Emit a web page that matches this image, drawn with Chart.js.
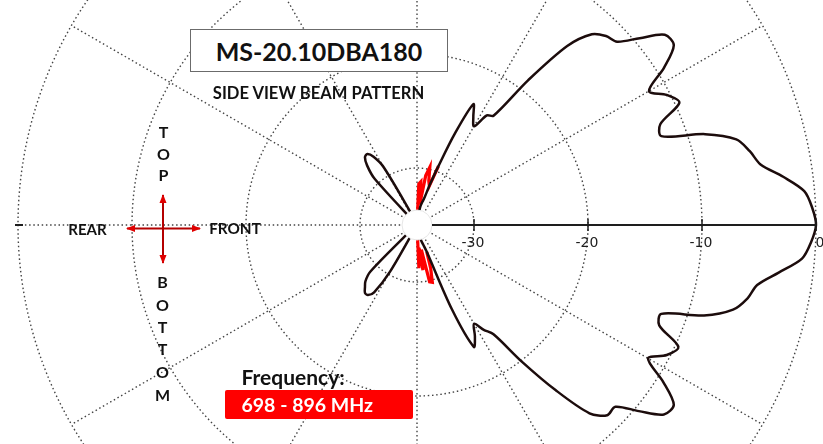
<!DOCTYPE html>
<html>
<head>
<meta charset="utf-8">
<script src="https://cdn.jsdelivr.net/npm/chart.js@4.4.1/dist/chart.umd.min.js"></script>
<style>
html,body{margin:0;padding:0;background:#fff;}
#wrap{position:relative;width:823px;height:444px;overflow:hidden;background:#fff;}
#c{position:absolute;left:-13px;top:-205px;}
.t{position:absolute;font-family:Lato,"Open Sans",sans-serif;font-weight:700;color:#111;white-space:nowrap;line-height:1;transform:translate(-50%,-50%);}
.l{transform:translate(0,-50%);}
#titlebox{position:absolute;left:190px;top:29px;width:258px;height:43px;box-sizing:border-box;border:1.5px solid #6b6b6b;background:#fff;}
#freqbox{position:absolute;left:225px;top:390px;width:188px;height:29px;background:#ff0000;border-radius:2px;}
svg{position:absolute;left:0;top:0;}
</style>
</head>
<body>
<div id="wrap">
  <canvas id="c" width="860" height="860"></canvas>
  <div id="titlebox"></div>
  <div class="t" style="left:319px;top:51px;font-size:25px;">MS-20.10DBA180</div>
  <div class="t" style="left:318.5px;top:92.5px;font-size:16.6px;">SIDE VIEW BEAM PATTERN</div>

  <div class="t" style="left:163.5px;top:131.5px;font-size:16px;">T</div>
  <div class="t" style="left:163.5px;top:153.5px;font-size:16px;">O</div>
  <div class="t" style="left:163.5px;top:175px;font-size:16px;">P</div>

  <div class="t" style="left:87.5px;top:228.5px;font-size:15px;">REAR</div>
  <div class="t" style="left:235px;top:228.5px;font-size:15.3px;">FRONT</div>

  <div class="t" style="left:162.5px;top:281.5px;font-size:16px;">B</div>
  <div class="t" style="left:162.5px;top:304.5px;font-size:16px;">O</div>
  <div class="t" style="left:162.5px;top:327px;font-size:16px;">T</div>
  <div class="t" style="left:162.5px;top:349px;font-size:16px;">T</div>
  <div class="t" style="left:162.5px;top:372px;font-size:16px;">O</div>
  <div class="t" style="left:162.5px;top:395px;font-size:16px;">M</div>

  <div class="t l" style="left:241.5px;top:375.5px;font-size:21px;">Frequency:</div>
  <div id="freqbox"></div>
  <div class="t l" style="left:241.5px;top:404.5px;font-size:19.5px;color:#fff;">698 - 896 MHz</div>

  <svg width="823" height="444">
    <defs>
      <marker id="ah" markerWidth="9" markerHeight="8" refX="8" refY="4" orient="auto-start-reverse" markerUnits="userSpaceOnUse">
        <path d="M0,0.5 L9,4 L0,7.5 z" fill="#e00000"/>
      </marker>
    </defs>
    <line x1="163" y1="195" x2="163" y2="263" stroke="#b40000" stroke-width="2" marker-start="url(#ah)" marker-end="url(#ah)"/>
    <line x1="127" y1="228.5" x2="200" y2="228.5" stroke="#b40000" stroke-width="2" marker-start="url(#ah)" marker-end="url(#ah)"/>
  </svg>
</div>
<script>
// Elevation angles (degrees, counter-clockwise from FRONT, 90 = TOP)
const ANGLES = [
  0, 2.5, 5, 7.5, 10, 12.5, 15, 17.5, 20, 22.5, 25, 27.5,
  30, 32.5, 35, 37.5, 40, 42.5, 45, 47.5, 50, 52.5, 55, 57.5,
  60, 62.5, 65, 67.5, 70, 72.5, 75, 77.5, 80, 82.5, 85, 87.5,
  90, 92.5, 95, 97.5, 100, 102.5, 105, 107.5, 110, 112.5, 115, 117.5,
  120, 122.5, 125, 127.5, 130, 132.5, 135, 137.5, 140, 142.5, 145, 147.5,
  150, 152.5, 155, 157.5, 160, 162.5, 165, 167.5, 170, 172.5, 175, 177.5,
  180, 182.5, 185, 187.5, 190, 192.5, 195, 197.5, 200, 202.5, 205, 207.5,
  210, 212.5, 215, 217.5, 220, 222.5, 225, 227.5, 230, 232.5, 235, 237.5,
  240, 242.5, 245, 247.5, 250, 252.5, 255, 257.5, 260, 262.5, 265, 267.5,
  270, 272.5, 275, 277.5, 280, 282.5, 285, 287.5, 290, 292.5, 295, 297.5,
  300, 302.5, 305, 307.5, 310, 312.5, 315, 317.5, 320, 322.5, 325, 327.5,
  330, 332.5, 335, 337.5, 340, 342.5, 345, 347.5, 350, 352.5, 355, 357.5
];
// Relative level (dB) of the side-view beam pattern (black trace)
const PATTERN_DB = [
  0, -0.3, -0.9, -2.6, -4.4, -5.1, -6.0, -8.5, -12.2, -11.9, -9.6, -10.3,
  -11.5, -9.3, -7.5, -7.6, -9.5, -11.2, -11.55, -12.3, -14.5, -19.0, -23.3, -23.6,
  -25.0, -24.3, -23.3, -26.3, -29.5, -31.4, -32.6, -33.0, -33.4, -34.2, -35, -35,
  -35, -35, -35, -35, -35, -35, -35, -35, -35, -35, -35, -33.5,
  -29.1, -27.9, -27.4, -27.5, -28.2, -29.5, -35, -35, -35, -35, -35, -35,
  -35, -35, -35, -35, -35, -35, -35, -35, -35, -35, -35, -35,
  -35, -35, -35, -35, -35, -35, -35, -35, -35, -35, -35, -35,
  -35, -35, -35, -35, -35, -34.0, -29.2, -28.3, -27.9, -27.5, -27.5, -28.0,
  -30.3, -35, -35, -35, -35, -35, -35, -35, -35, -35, -35, -35,
  -35, -35, -35, -35, -35, -34.0, -33.6, -33.2, -32.5, -27.0, -23.2, -24.0,
  -25.0, -24.1, -23.3, -19.9, -16.1, -12.6, -11.4, -11.4, -9.6, -7.7, -7.5, -9.4,
  -11.6, -10.3, -9.7, -12.0, -12.2, -8.6, -6.3, -5.3, -4.7, -3.0, -1.1, -0.4
];
// Red trace: spiky low-level lobes near the nulls above and below
const RED_ANGLES = [70, 72.5, 75, 77.5, 80, 82.5, 85, 87.5, 90,
                    270, 272.5, 275, 277.5, 280, 282.5, 285, 287.5, 290];
const RED_DB = [-29.5, -31.4, -31.0, -29.8, -30.6, -33.2, -31.2, -31.4, -35,
                -35, -31.2, -33.0, -31.0, -32.8, -29.9, -29.8, -31.0, -32.5];
const TICK_VALUES = [-30, -20, -10, 0];
const R_MIN = -35, R_MAX = 0;
const GRID_STEP_DEG = 30;
const HOLE_R = 15;

// radar runs clockwise from its start angle: reorder so angles increase counter-clockwise
const N = ANGLES.length;
const order = ANGLES.map((_, i) => (N - i) % N);
const labels = order.map(k => ANGLES[k] + '°');
const blackData = order.map(k => PATTERN_DB[k]);
const redData = order.map(k => {
  const j = RED_ANGLES.indexOf(ANGLES[k]);
  return j >= 0 ? RED_DB[j] : null;
});
const stepDeg = 360 / N;

const axisDecor = {
  id: 'axisDecor',
  afterDatasetsDraw(chart) {
    const s = chart.scales.r, ctx = chart.ctx;
    const cx = s.xCenter, cy = s.yCenter;
    ctx.save();
    ctx.fillStyle = '#fff';
    ctx.beginPath(); ctx.arc(cx, cy, HOLE_R, 0, Math.PI * 2); ctx.fill();
    ctx.strokeStyle = '#e6e6e6'; ctx.lineWidth = 1; ctx.stroke();
    const rEnd = s.getDistanceFromCenterForValue(R_MAX);
    ctx.strokeStyle = '#1e1e1e';
    ctx.lineWidth = 2;
    ctx.beginPath(); ctx.moveTo(cx + HOLE_R, cy); ctx.lineTo(cx + rEnd, cy); ctx.stroke();
    // short solid mark where the rear axis meets the outer ring
    ctx.beginPath(); ctx.moveTo(cx - rEnd - 3, cy); ctx.lineTo(cx - rEnd + 5, cy); ctx.stroke();
    ctx.lineWidth = 1.5;
    ctx.fillStyle = '#1e1e1e';
    ctx.font = '14px "DejaVu Sans", sans-serif';
    ctx.textAlign = 'center';
    ctx.textBaseline = 'middle';
    TICK_VALUES.forEach(v => {
      const x = cx + s.getDistanceFromCenterForValue(v);
      ctx.beginPath(); ctx.moveTo(x, cy - 6); ctx.lineTo(x, cy + 6); ctx.stroke();
      ctx.fillText(String(v), x + (v === 0 ? 4 : -1), cy + 18);
    });
    ctx.restore();
  }
};

new Chart(document.getElementById('c'), {
  type: 'radar',
  data: {
    labels: labels,
    datasets: [
      { label: 'Pattern', data: blackData, borderColor: '#1c0c0c', borderWidth: 2.5,
        pointRadius: 0, fill: false, tension: 0.3 },
      { label: 'Red trace', data: redData, borderColor: '#ff0000', borderWidth: 3.2,
        pointRadius: 0, fill: false, tension: 0, spanGaps: false }
    ]
  },
  options: {
    responsive: false,
    animation: false,
    events: [],
    layout: { padding: 31 },
    plugins: { legend: { display: false }, tooltip: { enabled: false } },
    scales: {
      r: {
        min: R_MIN, max: R_MAX,
        startAngle: 90,
        afterBuildTicks: sc => { sc.ticks = TICK_VALUES.map(v => ({ value: v })); },
        ticks: { display: false },
        pointLabels: { display: false },
        grid: { circular: true, color: '#444', lineWidth: 1.4 },
        border: { dash: [1.5, 2.7] },
        angleLines: {
          display: true, color: '#444', borderDash: [1.5, 2.7],
          lineWidth: c => {
            const deg = c.index * stepDeg;
            return (c.index !== 0 && Math.abs(deg / GRID_STEP_DEG - Math.round(deg / GRID_STEP_DEG)) < 1e-6) ? 1.4 : 0;
          }
        }
      }
    }
  },
  plugins: [axisDecor]
});
</script>
</body>
</html>
